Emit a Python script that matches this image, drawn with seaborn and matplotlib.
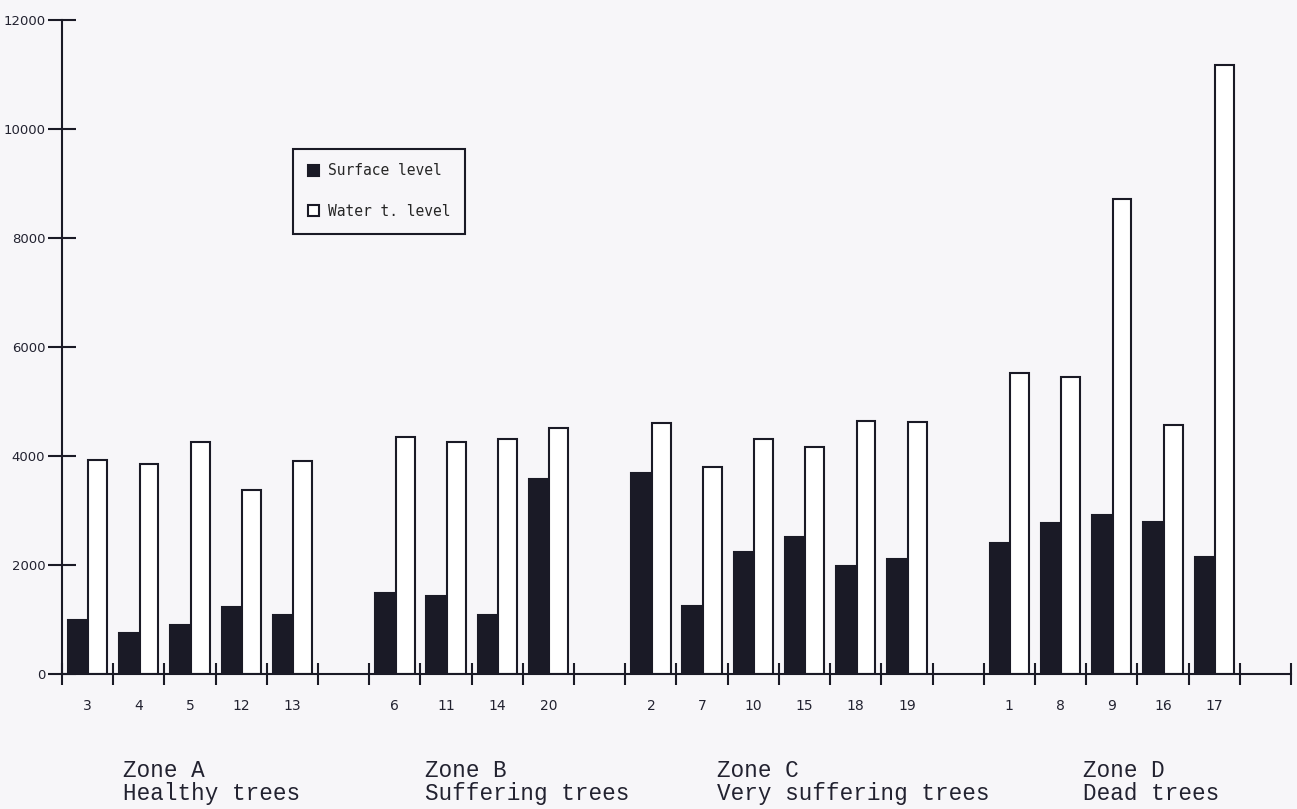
import numpy as np
import pandas as pd
import matplotlib
matplotlib.use("Agg")
import matplotlib.pyplot as plt
import seaborn as sns

# ---- data ----
trees_A = ["3", "4", "5", "12", "13"]
surface_A = [1000, 760, 890, 1230, 1090]
water_A = [3920, 3850, 4250, 3370, 3900]

trees_B = ["6", "11", "14", "20"]
surface_B = [1490, 1440, 1090, 3580]
water_B = [4340, 4260, 4320, 4520]

trees_C = ["2", "7", "10", "15", "18", "19"]
surface_C = [3690, 1250, 2230, 2510, 1990, 2110]
water_C = [4600, 3800, 4310, 4160, 4640, 4620]

trees_D = ["1", "8", "9", "16", "17"]
surface_D = [2400, 2770, 2920, 2780, 2150]
water_D = [5530, 5450, 8720, 4570, 11170]

zone_labels = ["Zone A\nHealthy trees", "Zone B\nSuffering trees",
               "Zone C\nVery suffering trees", "Zone D\nDead trees"]
series_names = ["Surface level", "Water t. level"]
y_ticks = [0, 2000, 4000, 6000, 8000, 10000, 12000]

# ---- build table ----
groups = [(trees_A, surface_A, water_A), (trees_B, surface_B, water_B),
          (trees_C, surface_C, water_C), (trees_D, surface_D, water_D)]
rows = []
order = []
tick_labels = []
for gi, (trees, surf, wat) in enumerate(groups):
    for t, s, w in zip(trees, surf, wat):
        rows.append({"tree": t, "level": series_names[0], "value": s})
        rows.append({"tree": t, "level": series_names[1], "value": w})
        order.append(t)
        tick_labels.append(t)
    order.append(f"gap{gi}")
    tick_labels.append("")
df = pd.DataFrame(rows)

sns.set_style("ticks")
plt.rcParams["font.family"] = ["DejaVu Sans"]

dark = "#1a1a26"
bg = "#f7f6f9"

fig = plt.figure(figsize=(12.97, 8.09), dpi=100, facecolor=bg)
ax = fig.add_axes([62 / 1297, 1 - 674 / 809, (1291 - 62) / 1297, (674 - 20) / 809])
ax.set_facecolor(bg)

sns.barplot(data=df, x="tree", y="value", hue="level", order=order,
            hue_order=series_names,
            palette={series_names[0]: dark, series_names[1]: "white"},
            saturation=1, edgecolor=dark, linewidth=1.5, width=0.8, gap=0.08,
            errorbar=None, ax=ax)

ax.set_xlim(-0.5, len(order) - 0.5)
ax.set_ylim(0, 12000)
ax.set_xlabel("")
ax.set_ylabel("")

for s in ["top", "right"]:
    ax.spines[s].set_visible(False)
for s in ["left", "bottom"]:
    ax.spines[s].set_color(dark)
    ax.spines[s].set_linewidth(1.5)

ax.set_xticks(np.arange(len(order) + 1) - 0.5, labels=[""] * (len(order) + 1))
ax.set_xticks(np.arange(len(order)), labels=tick_labels, minor=True)
ax.tick_params(axis="x", which="major", bottom=True, direction="inout",
               length=16, width=1.5, color=dark)
ax.tick_params(axis="x", which="minor", bottom=True, length=0, pad=18,
               labelsize=10, labelcolor="#222230")

ax.set_yticks(y_ticks, labels=[str(v) for v in y_ticks])
ax.tick_params(axis="y", which="major", left=True, direction="inout", length=20,
               width=1.5, color=dark, labelsize=9.5, labelcolor="#222230", pad=2)
ax.tick_params(axis="y", which="minor", length=0)

# legend
handles, labels = ax.get_legend_handles_labels()
leg = ax.legend(handles, labels, loc="upper left", bbox_to_anchor=(0.188, 0.803),
                frameon=True, fancybox=False, edgecolor=dark, facecolor=bg,
                prop={"family": "DejaVu Sans Mono", "size": 10.5},
                handlelength=0.8, handleheight=0.8, handletextpad=0.6,
                labelspacing=1.75, borderpad=1.0, borderaxespad=0)
leg.get_frame().set_linewidth(1.5)
leg.get_frame().set_alpha(None)

# zone labels
zone_x = [123, 425, 717, 1083]
for x, lab in zip(zone_x, zone_labels):
    fig.text(x / 1297, 1 - 759 / 809, lab, ha="left", va="top",
             family="Liberation Mono", fontsize=16.3, color="#222230", linespacing=1.0)

fig.savefig("out.png", dpi=100, facecolor=bg)
